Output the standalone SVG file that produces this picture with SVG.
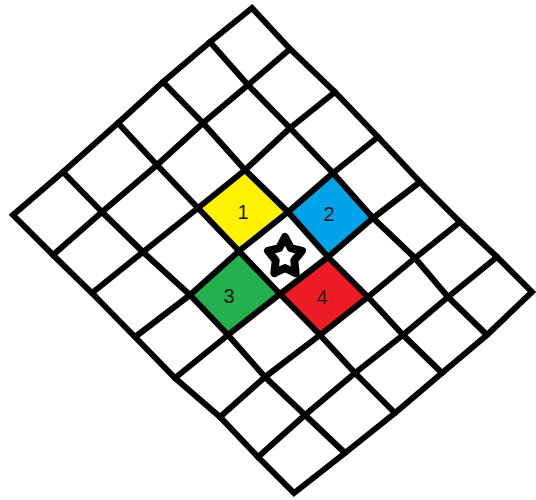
<svg xmlns="http://www.w3.org/2000/svg" width="536" height="500" viewBox="0 0 536 500">
  <style>
    .cell { stroke: none; }
    .grid { fill: none; stroke: #000; stroke-width: 6; stroke-linejoin: round; stroke-linecap: round; }
    .border { fill: none; stroke: #000; stroke-width: 6; stroke-linejoin: miter; }
    .lbl { font-family: "Liberation Sans", Arial, sans-serif; font-size: 20px; fill: #1a1a1a; text-anchor: middle; }
    .star { fill: #fff; stroke: #000; stroke-width: 8; stroke-linejoin: round; }
  </style>
  <rect width="536" height="500" fill="#fff"/>

  <g id="cell-1">
    <polygon class="cell" fill="#FFF200" points="245,170 288,212 239,251 198,208"/>
    <text class="lbl" x="243" y="219">1</text>
  </g>
  <g id="cell-2">
    <polygon class="cell" fill="#00A2E8" points="333,173 373,218 328,257 288,212"/>
    <text class="lbl" x="329" y="221">2</text>
  </g>
  <g id="cell-3">
    <polygon class="cell" fill="#22B14C" points="239,251 280,294 228,335 190,295"/>
    <text class="lbl" x="229" y="303">3</text>
  </g>
  <g id="cell-4">
    <polygon class="cell" fill="#ED1C24" points="328,257 368,297 320,335 280,294"/>
    <text class="lbl" x="322" y="304">4</text>
  </g>

  <g id="grid-lines">
    <polyline class="grid" points="290,49 248,85 203,123 157,165 102,212 53,255"/>
    <polyline class="grid" points="335,92 290,128 245,170 198,208 143,252 92,293"/>
    <polyline class="grid" points="378,137 333,173 288,212 239,251 190,295 135,337"/>
    <polyline class="grid" points="420,182 373,218 328,257 280,294 228,335 175,378"/>
    <polyline class="grid" points="460,222 415,258 368,297 320,335 265,377 220,417"/>
    <polyline class="grid" points="497,257 448,297 403,335 355,373 305,415 258,457"/>
    <polyline class="grid" points="210,42 248,85 290,128 333,173 373,218 415,258 448,297 487,335"/>
    <polyline class="grid" points="163,82 203,123 245,170 288,212 328,257 368,297 403,335 442,373"/>
    <polyline class="grid" points="118,123 157,165 198,208 239,251 280,294 320,335 355,373 395,413"/>
    <polyline class="grid" points="63,172 102,212 143,252 190,295 228,335 265,377 305,415 345,453"/>
    <polygon class="border" points="252,8 290,49 335,92 378,137 420,182 460,222 497,257 532,292 487,335 442,373 395,413 345,453 294,493 258,457 220,417 175,378 135,337 92,293 53,255 13,215 63,172 118,123 163,82 210,42"/>
  </g>

  <g id="star" transform="translate(285,257)">
    <polygon class="star" points="0,-20 5.8,-8.9 17,-6.2 9.3,3.4 10.6,16.2 0,11 -10.6,16.2 -9.3,3.4 -17,-6.2 -5.8,-8.9"/>
  </g>
</svg>
